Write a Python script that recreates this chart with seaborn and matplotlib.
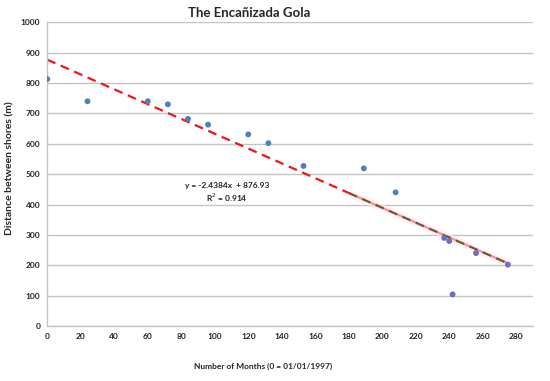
import matplotlib
import numpy as np
import pandas as pd
import seaborn as sns
from matplotlib import pyplot as plt

matplotlib.use("Agg")

months = [0, 24, 60, 72, 84, 96, 120, 132, 153, 189, 208, 237, 240, 242, 256, 275]
distance = [813, 740, 740, 730, 682, 663, 631, 602, 527, 519, 440, 290, 280, 104, 240, 202]
series = ["a"] * 11 + ["b"] * 5

slope = -2.4384
intercept = 876.93
r2 = 0.914
trend_start = 0
overlap_start = 180
trend_end = 275

x_ticks = list(range(0, 281, 20))
y_ticks = list(range(0, 1001, 100))

df = pd.DataFrame({"months": months, "distance": distance, "series": series})

sns.set_style("white")
plt.rcParams["font.family"] = ["Lato", "DejaVu Sans"]

fig = plt.figure(figsize=(5.5, 3.81), dpi=100)
ax = fig.add_axes([0.086, 0.1444, 0.883, 0.797])

ax.grid(axis="y", color="#c4c4c4", linewidth=1.0)
ax.set_axisbelow(True)

# trend line over the whole range
tx = np.array([trend_start, trend_end])
ax.plot(tx, slope * tx + intercept, color="#f0141c", linewidth=1.6,
        linestyle=(0, (4, 2.6)), zorder=2)

# second series trend overlapping on the right
ox = np.array([overlap_start, trend_end])
ax.plot(ox, slope * ox + intercept, color="#fde6f0", linewidth=5,
        alpha=0.6, zorder=2.1, solid_capstyle="butt")
ax.plot(ox, slope * ox + intercept, color="#74562a", linewidth=1.6,
        linestyle=(0, (4, 2.6)), zorder=2.2)

sns.scatterplot(data=df, x="months", y="distance", hue="series",
                palette={"a": "#4f81bd", "b": "#6a6fc2"}, s=18,
                edgecolor="none", legend=False, ax=ax, zorder=3)

ax.text(107.5, 462, f"y = {slope}x  + {intercept}", ha="center", va="center",
        fontsize=6, fontweight="bold", color="#222222")
ax.text(107, 422, f"R$^2$ = {r2}", ha="center", va="center",
        fontsize=6, fontweight="bold", color="#222222")

ax.set_xlim(0, 290)
ax.set_ylim(0, 1000)
ax.set_xticks(x_ticks)
ax.set_yticks(y_ticks)
ax.tick_params(axis="both", labelsize=6, length=0, pad=5, colors="#222222")
for lbl in ax.get_xticklabels() + ax.get_yticklabels():
    lbl.set_fontweight("bold")

for side in ["top", "right"]:
    ax.spines[side].set_visible(False)
for side in ["left", "bottom"]:
    ax.spines[side].set_color("#c4c4c4")
    ax.spines[side].set_linewidth(1.0)

ax.set_xlabel("Number of Months (0 = 01/01/1997)", fontsize=6,
              fontweight="bold")
ax.xaxis.set_label_coords(0.444, -0.12)
ax.set_ylabel("Distance between shores (m)", fontsize=7.5,
              fontweight="bold")
ax.yaxis.set_label_coords(-0.068, 0.52)
fig.suptitle("The Encañizada Gola", x=0.453, y=0.982, fontsize=9.5,
             fontweight="bold")

fig.savefig("out.png", dpi=100)
plt.close(fig)
